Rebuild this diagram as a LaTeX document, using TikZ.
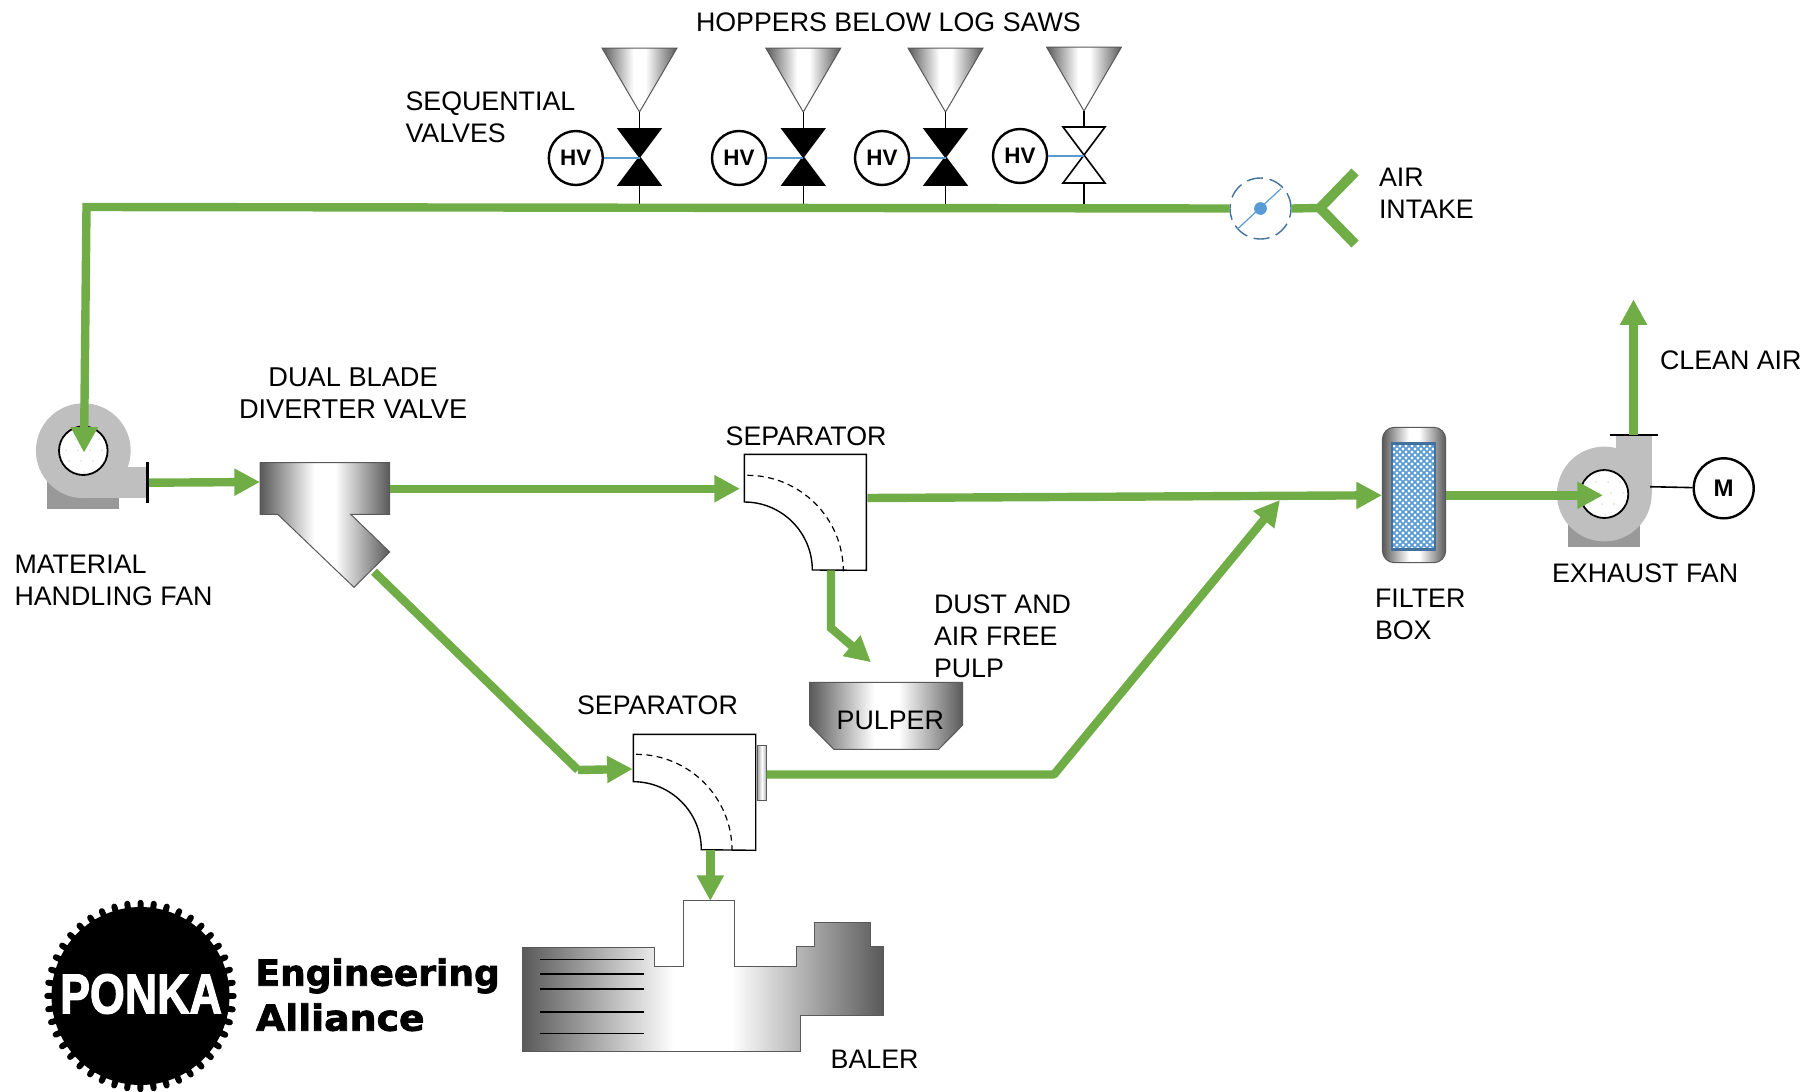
\documentclass[tikz,border=0pt]{standalone}
\usepackage{fontspec}
\setmainfont{Liberation Sans}
\newfontfamily\logofont[FakeBold=2]{DejaVu Sans Bold}
\newfontfamily\ponkafont[FakeBold=2.5]{Liberation Sans Bold}
\usetikzlibrary{arrows.meta}
\definecolor{pipegreen}{HTML}{70AD47}
\definecolor{sigblue}{HTML}{5B9BD5}
\definecolor{deepblue}{HTML}{41719C}
\definecolor{fanbody}{HTML}{BFBFBF}
\definecolor{fanbase}{HTML}{999999}
\definecolor{steel}{HTML}{595959}
\pgfdeclarehorizontalshading{steelbar}{100bp}{color(0bp)=(steel);color(25bp)=(steel);color(46bp)=(white);color(54bp)=(white);color(75bp)=(steel);color(100bp)=(steel)}
\tikzset{
  pipe/.style={draw=pipegreen,line width=4.2pt},
  flow/.style={pipe,-{Triangle[length=12.8pt,width=12.8pt]}},
  label/.style={inner sep=0pt,outer sep=0pt,anchor=base west,align=left,font=\fontsize{13.4}{16}\selectfont},
  metal/.style={draw=steel,line width=.5pt,shading=steelbar,shading angle=0},
  hvbubble/.style={circle,draw=black,line width=1.2pt,fill=white,minimum size=27pt,inner sep=0pt,font=\fontsize{11.2}{13}\bfseries\selectfont},
  motorbubble/.style={circle,draw=black,line width=1.2pt,fill=white,minimum size=30pt,inner sep=0pt,font=\fontsize{12}{14}\bfseries\selectfont},
  signal/.style={draw=sigblue,line width=.9pt},
  stem/.style={draw=black,line width=.6pt},
  sepbox/.style={draw=black,line width=.7pt},
  sepflow/.style={draw=black,line width=.6pt,dash pattern=on 3pt off 2.2pt},
}
\begin{document}
\begin{tikzpicture}[x=.5pt,y=-.5pt]
\useasboundingbox (0,0) rectangle (1820,1092);

% ---- hoppers and sequential valves
\foreach \n/\x/\yt/\vc/\vf/\hx in {1/639.5/48/158/black/575.8,2/803.3/48/158/black/739,3/945.5/48/158/black/882,4/1084/47/156/white/1020}{
  \path[metal] (\x-37.5,\yt) -- (\x+37.5,\yt) -- (\x,\yt+64) -- cycle;
  \coordinate (tip\n) at (\x,\yt+64);
  \coordinate (vc\n) at (\x,\vc);
  \coordinate (vt\n) at (\x,\vc-29);
  \coordinate (vb\n) at (\x,\vc+27);
  \coordinate (tap\n) at (\x,207);
  \draw[stem] (tip\n) -- (vt\n);
  \draw[stem] (vb\n) -- (tap\n);
  \draw[black,line width=.8pt,fill=\vf,line join=miter] (\x-21,\vc-29) -- (\x+21,\vc-29) -- (\x-21,\vc+27) -- (\x+21,\vc+27) -- cycle;
  \node[hvbubble] (hv\n) at (\hx,\vc) {HV};
  \draw[signal] (hv\n) -- (vc\n);
}

% ---- air intake and damper
\node[circle,draw=deepblue,line width=.7pt,dash pattern=on 8pt off 3.4pt,minimum size=30.5pt,inner sep=0pt] (damper) at (1260.5,208.5) {};
\coordinate (blA) at (1237.5,229);
\coordinate (blB) at (1281,188.7);
\draw[draw=sigblue,line width=.6pt] (blA) -- (blB);
\fill[sigblue] (damper.center) circle[radius=3.2pt];
\coordinate (yv) at (1320,208);
\coordinate (yu) at (1355,172);
\coordinate (yl) at (1355,244);
\draw[pipe] (damper.east) -- (yv);
\draw[pipe,line width=5pt,line join=miter] (yu) -- (yv) -- (yl);

% ---- material handling fan
\fill[fanbase] (47,480) rectangle (119.3,509.3);
\fill[fanbody] (83.3,450.7) circle[radius=23.7pt];
\fill[fanbody] (83.3,467.3) rectangle (146.7,497.7);
\node[circle,draw=black,line width=.9pt,fill=white,minimum size=24.3pt,inner sep=0pt] (mhfan) at (83.3,450.7) {};
\begin{scope}
  \clip (83.3,450.7) circle[radius=11.8pt];
  \foreach \i in {0,...,4}\foreach \j in {0,...,4}
    \fill[black!12] (60+\i*12+\j*3,428+\j*11) circle[radius=.5pt];
\end{scope}
\coordinate (flA) at (147.7,461.7);
\coordinate (flB) at (147.7,502.7);
\draw[black,line width=1.4pt] (flA) -- (flB);

% ---- diverter
\path[metal] (260,462.7) -- (389.7,462.7) -- (389.7,514.3) -- (350.7,514.3) -- (389.7,552) -- (354,587.3) -- (277.7,514.3) -- (260,514.3) -- cycle;
\coordinate (divIn) at (260,482);
\coordinate (divOutA) at (389.7,488.7);
\coordinate (divOutB) at (374,571.7);

% ---- separators
\draw[sepbox,line join=miter] (744.3,502) arc[start angle=90,end angle=0,radius=34pt] -- (866.3,570.3) -- (866.3,454.3) -- (744.3,454.3) -- cycle;
\draw[sepflow] (747.3,475.3) arc[start angle=90,end angle=0,radius=48pt];
\draw[sepbox,line join=miter] (633.3,781.7) arc[start angle=90,end angle=0,radius=34pt] -- (755.7,850.3) -- (755.7,734.3) -- (633.3,734.3) -- cycle;
\draw[sepflow] (636,754.3) arc[start angle=90,end angle=0,radius=48pt];
\path[draw=steel,line width=.5pt,left color=black!35,right color=black!35,middle color=white] (757.3,745.3) rectangle (766.7,800.7);
\coordinate (sepAin) at (740,488.7);
\coordinate (sepAout) at (867.3,498);
\coordinate (sepAdown) at (831,570.3);
\coordinate (sepBin) at (632.7,769);
\coordinate (sepBout) at (766.7,774.5);
\coordinate (sepBdown) at (710.3,850.3);

% ---- pulper
\path[metal] (809.7,682.3) -- (962.7,682.3) -- (962.7,725) -- (938.7,749.3) -- (834,749.3) -- (809.7,725) -- cycle;
\node[label] (pulper) at (836.7,729) {PULPER};

% ---- baler
\path[metal] (522.3,947.7) -- (654.7,947.7) -- (654.7,966.3) -- (683.3,966.3) -- (683.3,900.3) -- (734.7,900.3) -- (734.7,966.3) -- (796,966.3) -- (796,946.7) -- (814.3,946.7) -- (814.3,922) -- (870.7,922) -- (870.7,946.7) -- (883.3,946.7) -- (883.3,1015.3) -- (800.3,1015.3) -- (800.3,1051) -- (522.3,1051) -- cycle;
\foreach \y in {959.7,974,989,1012,1033.7}
  \draw[black,line width=.7pt] (540,\y) -- (644,\y);
\coordinate (balerIn) at (710.3,901);

% ---- filter box
\path[metal,rounded corners=6pt] (1382.4,427.3) rectangle (1445.7,562.7);
\begin{scope}
  \clip (1392,443.3) rectangle (1434.7,549.3);
  \fill[sigblue] (1392,443.3) rectangle (1434.7,549.3);
  \foreach \i in {0,...,7}\foreach \j in {0,...,18}{
    \fill[white] (1391+\i*6,443+\j*6) circle[radius=.85pt];
    \fill[white] (1394+\i*6,446+\j*6) circle[radius=.85pt];
  }
\end{scope}
\draw[deepblue,line width=1.2pt] (1392,443.3) rectangle (1434.7,549.3);
\coordinate (filtIn) at (1382,495.3);
\coordinate (filtOut) at (1445.7,495.3);

% ---- exhaust fan and motor
\fill[fanbase] (1568,525) rectangle (1640.4,547.3);
\fill[fanbody] (1604.3,494) circle[radius=23.7pt];
\fill[fanbody] (1616,435) rectangle (1651.7,494);
\node[circle,draw=black,line width=.9pt,fill=white,minimum size=24pt,inner sep=0pt] (exfan) at (1604.3,494) {};
\begin{scope}
  \clip (1604.3,494) circle[radius=11.7pt];
  \foreach \i in {0,...,4}\foreach \j in {0,...,4}
    \fill[black!12] (1581+\i*12+\j*3,471+\j*11) circle[radius=.5pt];
\end{scope}
\coordinate (exA) at (1609.8,435);
\coordinate (exB) at (1658,435);
\draw[black,line width=1.2pt] (exA) -- (exB);
\node[motorbubble] (motor) at (1723.7,488.3) {M};
\coordinate (shaft) at (1650,486.7);
\draw[black,line width=.8pt] (shaft) -- (motor);
\coordinate (exIn) at (1603,495.3);
\coordinate (exOut) at (1633.5,435);
\coordinate (cleanTip) at (1633.5,299.3);

% ---- green process lines
\coordinate (mainCorner) at (86.5,207);
\coordinate (mhIn) at (84,452.7);
\coordinate (mhOut) at (149,482.7);
\draw[flow,line join=miter] (damper.west) -- (mainCorner) -- (mhIn);
\draw[flow] (mhOut) -- (divIn);
\draw[flow] (divOutA) -- (sepAin);
\coordinate (kneeA) at (578,770);
\draw[pipe] (divOutB) -- (kneeA);
\draw[flow] (kneeA) -- (sepBin);
\coordinate (pulperBend) at (831,628);
\coordinate (pulperIn) at (871,662.3);
\draw[flow,line join=miter] (sepAdown) -- (pulperBend) -- (pulperIn);
\draw[flow] (sepBdown) -- (balerIn);
\draw[flow] (sepAout) -- (filtIn);
\coordinate (kneeB) at (1054,774.5);
\coordinate (joinTip) at (1280,500);
\draw[flow,line join=bevel] (sepBout) -- (kneeB) -- (joinTip);
\draw[flow] (filtOut) -- (exIn);
\draw[flow] (exOut) -- (cleanTip);

% ---- labels
\node[label] (tHoppers) at (696,31.5) {HOPPERS BELOW LOG SAWS};
\node[label] (tSeq) at (405.5,142) {SEQUENTIAL\\VALVES};
\node[label] (tAir) at (1379,218.5) {AIR\\INTAKE};
\node[label] (tClean) at (1660,369) {CLEAN AIR};
\node[label,align=center,font=\fontsize{13.6}{16}\selectfont] (tDiv) at (239,418.3) {DUAL BLADE\\DIVERTER VALVE};
\node[label] (tSepA) at (725.7,445.7) {SEPARATOR};
\node[label] (tSepB) at (577,714.5) {SEPARATOR};
\node[label] (tMat) at (14.5,605.5) {MATERIAL\\HANDLING FAN};
\node[label] (tDust) at (934,677.3) {DUST AND\\AIR FREE\\PULP};
\node[label] (tFilter) at (1375,639) {FILTER\\BOX};
\node[label] (tExh) at (1552,582.5) {EXHAUST FAN};
\node[label] (tBaler) at (830.7,1068.5) {BALER};

% ---- logo
\coordinate (gear) at (140.5,996);
\fill[black] (gear) circle[radius=44.5pt];
\begin{scope}[shift={(gear)}]
  \foreach \a in {0,8.18,...,359}
    \draw[black,line width=3pt,line cap=round] (\a:43pt) -- (\a:46.6pt);
\end{scope}
\node[inner sep=0pt,text=white,font=\ponkafont\fontsize{28}{30}\selectfont] (ponka) at (141,994) {\scalebox{.8}[1]{PONKA}};
\node[label,font=\logofont\fontsize{18}{20}\selectfont] (tEng) at (255.5,985.7) {Engineering};
\node[label,font=\logofont\fontsize{18}{20}\selectfont] (tAll) at (256,1030.7) {\scalebox{1.05}[1]{Alliance}};
\end{tikzpicture}
\end{document}
